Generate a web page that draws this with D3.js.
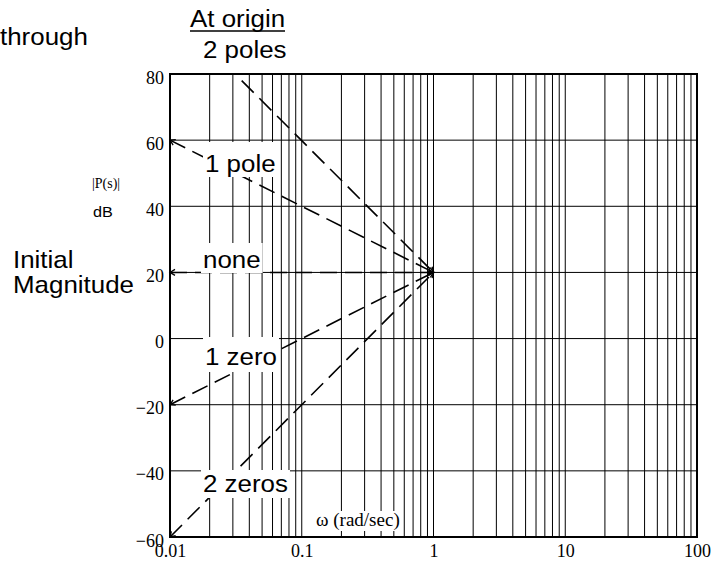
<!DOCTYPE html>
<html>
<head>
<meta charset="utf-8">
<script src="https://cdn.jsdelivr.net/npm/d3@7"></script>
<style>
  body { margin: 0; background: #fff; }
  svg { display: block; }
</style>
</head>
<body>
<svg width="727" height="561"></svg>
<script>
// asymptote lines, all meeting at w = 1, 20 dB
const lineNames = ['2 poles', '1 pole', 'none', '1 zero', '2 zeros']
const startW = [0.035, 0.01, 0.01, 0.01, 0.01]
const startDb = [78, 60, 20, -20, -60]
const endW = [1, 1, 1, 1, 1]
const endDb = [20, 20, 20, 20, 20]

const xTicks = [0.01, 0.1, 1, 10, 100]
const xTickLabels = ['0.01', '0.1', '1', '10', '100']
const yTicks = [80, 60, 40, 20, 0, -20, -40, -60]

const svg = d3.select('svg')
const sans = '"Liberation Sans", Arial, Helvetica, sans-serif'
const serif = '"Liberation Serif", "Times New Roman", serif'
const stretch = 1.08

const x = d3.scaleLog().domain([0.01, 100]).range([170, 697])
const y = d3.scaleLinear().domain([-60, 80]).range([537, 74])

// grid
const gridX = x.ticks().filter(d => d > 0.01 && d < 100)
svg.append('g')
    .selectAll('line')
    .data(gridX)
    .join('line')
        .attr('x1', d => x(d))
        .attr('x2', d => x(d))
        .attr('y1', y(80))
        .attr('y2', y(-60))
        .attr('stroke', '#000')
        .attr('stroke-width', 1)

svg.append('g')
    .selectAll('line')
    .data(yTicks.filter(d => d > -60 && d < 80))
    .join('line')
        .attr('x1', x(0.01))
        .attr('x2', x(100))
        .attr('y1', d => y(d))
        .attr('y2', d => y(d))
        .attr('stroke', '#000')
        .attr('stroke-width', 1)

// arrow marker
svg.append('defs')
    .append('marker')
        .attr('id', 'arr')
        .attr('viewBox', '-6 -4 8 8')
        .attr('markerWidth', 8)
        .attr('markerHeight', 8)
        .attr('markerUnits', 'userSpaceOnUse')
        .attr('orient', 'auto-start-reverse')
    .append('path')
        .attr('d', 'M-5,-3 L0,0 L-5,3')
        .attr('fill', 'none')
        .attr('stroke', '#000')
        .attr('stroke-width', 1.3)

// dashed asymptotes
svg.append('g')
    .selectAll('line')
    .data(lineNames)
    .join('line')
        .attr('x1', (d, i) => x(startW[i]))
        .attr('y1', (d, i) => y(startDb[i]))
        .attr('x2', (d, i) => x(endW[i]))
        .attr('y2', (d, i) => y(endDb[i]))
        .attr('stroke', '#000')
        .attr('stroke-width', 1.6)
        .attr('stroke-dasharray', '17,8')
        .attr('marker-end', 'url(#arr)')
        .attr('marker-start', (d, i) => i > 0 ? 'url(#arr)' : null)

// plot frame
svg.append('rect')
    .attr('x', x(0.01))
    .attr('y', y(80))
    .attr('width', x(100) - x(0.01))
    .attr('height', y(-60) - y(80))
    .attr('fill', 'none')
    .attr('stroke', '#000')
    .attr('stroke-width', 2)

// tick labels
const yAxis = svg.append('g')
    .attr('transform', `translate(${x(0.01) - 6},0)`)
    .call(d3.axisLeft(y).tickValues(yTicks).tickSize(0).tickPadding(0)
        .tickFormat(d => d < 0 ? '\u2212' + Math.abs(d) : d))
yAxis.select('.domain').remove()
yAxis.selectAll('text')
    .attr('font-family', serif)
    .attr('font-size', 18)
    .attr('fill', '#000')
    .attr('dy', '0.5em')

const xAxis = svg.append('g')
    .attr('transform', `translate(0,${y(-60) + 7})`)
    .call(d3.axisBottom(x).tickValues(xTicks).tickSize(0).tickPadding(0)
        .tickFormat((d, i) => xTickLabels[i]))
xAxis.select('.domain').remove()
xAxis.selectAll('text')
    .attr('font-family', serif)
    .attr('font-size', 18)
    .attr('fill', '#000')

// stretched sans text helper
function label(t, px, py, size) {
    return svg.append('text')
        .attr('transform', `translate(${px},${py}) scale(${stretch},1)`)
        .attr('font-family', sans)
        .attr('font-size', size)
        .text(t)
}

// labels on the asymptotes, with white boxes
const tags = [
    { t: '1 pole', x: 205, y: 172, top: 142, bot: 177 },
    { t: 'none', x: 203, y: 268, top: 243, bot: 273 },
    { t: '1 zero', x: 205, y: 365, top: 337, bot: 372 },
    { t: '2 zeros', x: 203, y: 492, top: 470, bot: 498 }
]
tags.forEach(d => {
    const bg = svg.append('rect').attr('fill', '#fff')
    const t = label(d.t, d.x, d.y, 24)
    const b = t.node().getBBox()
    bg.attr('x', d.x + b.x * stretch - 2)
        .attr('y', d.top)
        .attr('width', b.width * stretch + 4)
        .attr('height', d.bot - d.top)
})

// omega label
const wbg = svg.append('rect').attr('fill', '#fff')
const wl = svg.append('text')
    .attr('x', 316)
    .attr('y', 526)
    .attr('font-family', serif)
    .attr('font-size', 19)
    .text('\u03c9 (rad/sec)')
const wb = wl.node().getBBox()
wbg.attr('x', wb.x - 2)
    .attr('y', wb.y + 2)
    .attr('width', wb.width + 4)
    .attr('height', wb.height - 2)

// free text
label('through', 0, 45, 24)
label('At origin', 190, 27, 24)
label('2 poles', 203, 58, 24)
label('Initial', 13, 268, 24)
label('Magnitude', 13, 293, 24)
label('dB', 93, 217, 15)
svg.append('text')
    .attr('x', 92)
    .attr('y', 188)
    .attr('font-family', serif)
    .attr('font-size', 14)
    .text('|P(s)|')

// underline under "At origin"
svg.append('line')
    .attr('x1', 190)
    .attr('x2', 285)
    .attr('y1', 31)
    .attr('y2', 31)
    .attr('stroke', '#000')
    .attr('stroke-width', 1.5)
</script>
</body>
</html>
